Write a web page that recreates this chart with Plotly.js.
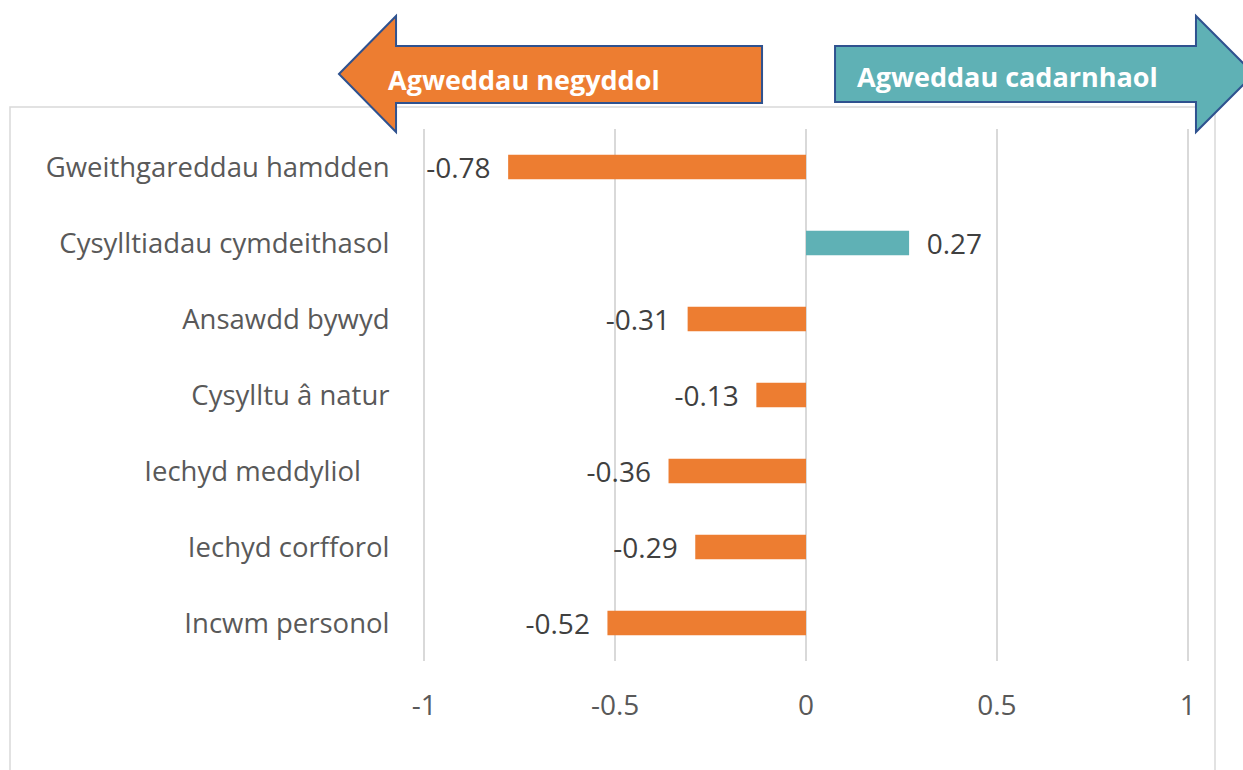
<!DOCTYPE html>
<html><head><meta charset="utf-8">
<script src="https://cdn.plot.ly/plotly-3.0.1.min.js"></script>
<style>html,body{margin:0;padding:0;background:#fff}</style>
</head><body>
<div id="chart" style="width:1243px;height:770px"></div>
<script>
const categories = ["Gweithgareddau hamdden","Cysylltiadau cymdeithasol","Ansawdd bywyd","Cysylltu â natur","Iechyd meddyliol\u00a0\u00a0\u00a0\u00a0","Iechyd corfforol","Incwm personol"];
const values = [-0.78, 0.27, -0.31, -0.13, -0.36, -0.29, -0.52];
const tickValues = [-1, -0.5, 0, 0.5, 1];
const tickLabels = ["-1", "-0.5", "0", "0.5", "1"];
const negLabel = "Agweddau negyddol";
const posLabel = "Agweddau cadarnhaol";

const ORANGE = "#ED7D31", TEAL = "#5FB1B5", OUTLINE = "#2F528F";
const W = 1243, H = 770;
const L = 423, R = 1189, T = 129, B = 661;
const px = v => (v - L) / (R - L);
const py = v => (B - v) / (B - T);
const path = pts => "M" + pts.map(p => px(p[0]).toFixed(4) + "," + py(p[1]).toFixed(4)).join(" L") + " Z";
const NB = "\u00a0\u00a0";

const trace = {
  type: "bar", orientation: "h",
  y: categories, x: values,
  marker: {color: values.map(v => v < 0 ? ORANGE : TEAL)},
  text: values.map(v => v < 0 ? String(v) + NB : NB + String(v)),
  textposition: "outside", cliponaxis: false, constraintext: "none",
  textfont: {family: "Open Sans", size: 28, color: "#404040"},
  hoverinfo: "skip"
};

const layout = {
  width: W, height: H,
  margin: {l: L, r: W - R, t: T, b: H - B, pad: 0},
  paper_bgcolor: "#fff", plot_bgcolor: "#fff",
  showlegend: false, bargap: 0.68,
  font: {family: "Open Sans", color: "#595959"},
  xaxis: {range: [-1.003, 1.003], tickvals: tickValues, ticktext: tickLabels,
          showgrid: true, gridcolor: "#D9D9D9", gridwidth: 1.5,
          zeroline: false, showline: false, ticks: "outside", ticklen: 19, tickcolor: "rgba(0,0,0,0)",
          tickfont: {size: 28, color: "#595959"}, automargin: false},
  yaxis: {type: "category", categoryorder: "array", categoryarray: categories,
          autorange: "reversed", showgrid: false, zeroline: false, showline: false,
          ticks: "outside", ticklen: 27, tickcolor: "rgba(0,0,0,0)",
          tickfont: {size: 27.5, color: "#595959"}, automargin: false},
  shapes: [
    {type: "rect", xref: "paper", yref: "paper", x0: px(10), x1: px(1215), y0: py(800), y1: py(107),
     line: {color: "#D9D9D9", width: 1.5}, fillcolor: "rgba(0,0,0,0)", layer: "below"},
    {type: "path", xref: "paper", yref: "paper", layer: "above",
     path: path([[339,74],[396,16],[396,46],[762,46],[762,103],[396,103],[396,132]]),
     fillcolor: ORANGE, line: {color: OUTLINE, width: 2}},
    {type: "path", xref: "paper", yref: "paper", layer: "above",
     path: path([[835,46],[1196,46],[1196,16],[1254,74],[1196,132],[1196,102],[835,102]]),
     fillcolor: TEAL, line: {color: OUTLINE, width: 2}}
  ],
  annotations: [
    {xref: "paper", yref: "paper", x: px(386), y: py(79), xanchor: "left", yanchor: "middle",
     text: "<b>" + negLabel + "</b>", showarrow: false, font: {family: "Open Sans", size: 27, color: "#fff"}},
    {xref: "paper", yref: "paper", x: px(855), y: py(77), xanchor: "left", yanchor: "middle",
     text: "<b>" + posLabel + "</b>", showarrow: false, font: {family: "Open Sans", size: 27, color: "#fff"}}
  ]
};

Plotly.newPlot("chart", [trace], layout, {displayModeBar: false, staticPlot: true});
</script>
</body></html>
